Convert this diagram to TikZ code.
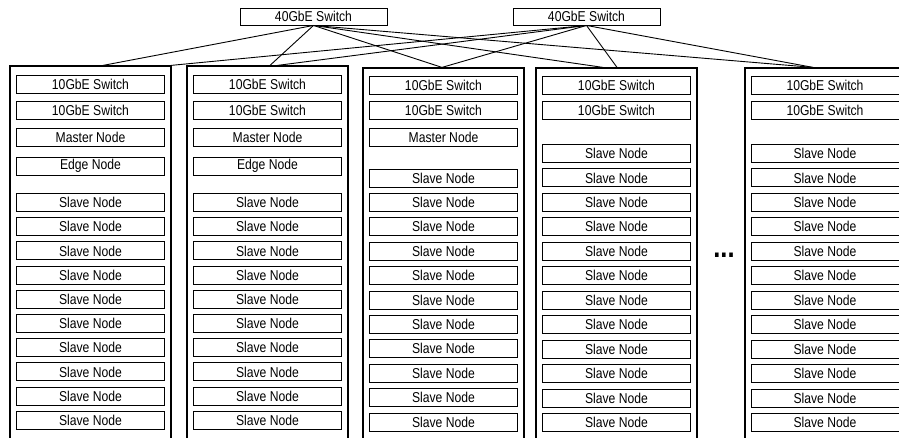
\documentclass[tikz,border=0pt]{standalone}
\usepackage{fontspec}
\setmainfont{Liberation Sans}[FakeStretch=0.85]
\begin{document}
\begin{tikzpicture}[x=1pt, y=-1pt,
    unit/.style={draw, line width=0.9pt, minimum width=148pt, minimum height=18pt, inner sep=0pt, font=\fontsize{14.3}{14}\selectfont},
    rack/.style={draw, line width=1.2pt, minimum width=161pt, inner sep=0pt},
    link/.style={line width=0.9pt}]
    \useasboundingbox (0,0) rectangle (899,438);
    % core switches
    \node[unit, minimum width=147pt, minimum height=17pt] (sw1) at (313.5,16.5) {40GbE Switch};
    \node[unit, minimum width=147pt, minimum height=17pt] (sw2) at (586.5,16.5) {40GbE Switch};
    % racks
    \node[rack, minimum height=374pt] (rack1) at (90.5,253) {};
    \node[rack, minimum height=374pt] (rack2) at (267.5,253) {};
    \node[rack, minimum height=372pt] (rack3) at (443.5,254) {};
    \node[rack, minimum height=372pt] (rack4) at (616.5,254) {};
    \node[rack, minimum height=372pt] (rack5) at (825.5,254) {};
    % uplinks
    \foreach \r/\a/\b in {1/12.5/80.5, 2/2.5/10, 3/-1.5/-1.5, 4/-13.5/0.5, 5/-12.5/-12.5} {
        \draw[link] (sw1.south) -- ([xshift=\a pt]rack\r.north);
        \draw[link] (sw2.south) -- ([xshift=\b pt]rack\r.north);
    }
    % racks with master and edge node
    \foreach \r/\x in {1/90.5, 2/267.5} {
        \node[unit] (r\r-tor1) at (\x,84) {10GbE Switch};
        \node[unit] (r\r-tor2) at (\x,110) {10GbE Switch};
        \node[unit] (r\r-master) at (\x,137.5) {Master Node};
        \node[unit] (r\r-edge) at (\x,166) {Edge Node};
        \foreach \i in {1,...,10}
            \node[unit] (r\r-s\i) at (\x,{202.5+24.2*(\i-1)}) {Slave Node};
    }
    % rack with master node
    \node[unit] (r3-tor1) at (443.5,85.5) {10GbE Switch};
    \node[unit] (r3-tor2) at (443.5,110.5) {10GbE Switch};
    \node[unit] (r3-master) at (443.5,137.5) {Master Node};
    \foreach \i in {1,...,11}
        \node[unit] (r3-s\i) at (443.5,{178+24.4*(\i-1)}) {Slave Node};
    % worker-only racks
    \foreach \r/\x in {4/616.5, 5/825} {
        \node[unit] (r\r-tor1) at (\x,85.5) {10GbE Switch};
        \node[unit] (r\r-tor2) at (\x,110.5) {10GbE Switch};
        \foreach \i in {1,...,12}
            \node[unit] (r\r-s\i) at (\x,{153.5+24.45*(\i-1)}) {Slave Node};
    }
    \node[font=\bfseries\fontsize{30}{30}\selectfont, anchor=base, inner sep=0pt] (more) at (724,258) {...};
\end{tikzpicture}
\end{document}
